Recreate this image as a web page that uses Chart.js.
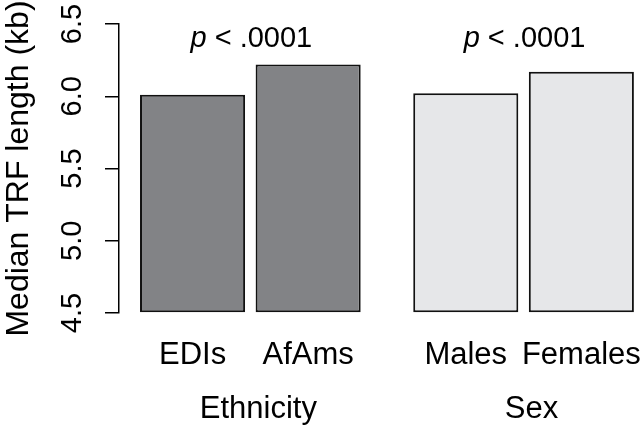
<!DOCTYPE html>
<html lang="en">
<head>
<meta charset="UTF-8">
<title>Median TRF length</title>
<script src="https://cdn.jsdelivr.net/npm/chart.js"></script>
<style>
  html, body { margin: 0; padding: 0; background: white; }
  #wrap { width: 640px; height: 425px; }
</style>
</head>
<body>
<div id="wrap"><canvas id="trfChart" width="640" height="425"></canvas></div>
<script>
// values
const categories = ["EDIs", "AfAms", "Males", "Females"];
const groupOf = [0, 0, 1, 1];
const groups = ["Ethnicity", "Sex"];
const medianTRF = [6.01, 6.22, 6.02, 6.17];
const pLabels = ["< .0001", "< .0001"];
const yTicks = [4.5, 5.0, 5.5, 6.0, 6.5];

const groupColors = ["#828386", "#e6e7e9"];
const FONT = '"Liberation Sans", Arial, Helvetica, sans-serif';

// barplot style layout: bar width 1, small space inside a group, wider between groups
const barSpace = 0.1, groupSpace = 0.5;
let cursor = 0;
const centers = categories.map((c, i) => {
    cursor += (i > 0 && groupOf[i] !== groupOf[i - 1]) ? groupSpace : barSpace;
    const mid = cursor + 0.5;
    cursor += 1;
    return mid;
});

const labelPlugin = {
    id: "barLabels",
    afterDraw(chart) {
        const ctx = chart.ctx;
        const xs = chart.scales.x, ys = chart.scales.y;
        ctx.save();
        ctx.fillStyle = "#000";
        ctx.textBaseline = "alphabetic";

        // category names under each bar
        ctx.textAlign = "center";
        ctx.font = "31px " + FONT;
        categories.forEach((c, i) => {
            ctx.fillText(c, xs.getPixelForValue(centers[i]), ys.bottom + 51);
        });

        groups.forEach((g, gi) => {
            const idx = groupOf.map((v, i) => v === gi ? i : -1).filter(i => i >= 0);
            const mid = idx.reduce((s, i) => s + centers[i], 0) / idx.length;
            const cx = xs.getPixelForValue(mid);

            // group name
            ctx.textAlign = "center";
            ctx.font = "31px " + FONT;
            ctx.fillText(g, cx + 8, ys.bottom + 105);

            // p value above the pair
            ctx.textAlign = "left";
            ctx.font = "italic 29px " + FONT;
            const pw = ctx.measureText("p ").width;
            ctx.font = "29px " + FONT;
            const rw = ctx.measureText(pLabels[gi]).width;
            const start = cx + 1 - (pw + rw) / 2;
            ctx.font = "italic 29px " + FONT;
            ctx.fillText("p", start, ys.top + 23);
            ctx.font = "29px " + FONT;
            ctx.fillText(pLabels[gi], start + pw, ys.top + 23);
        });
        ctx.restore();
    }
};

const chart = new Chart(document.getElementById("trfChart"), {
    type: "bar",
    data: {
        datasets: [{
            data: categories.map((c, i) => ({ x: centers[i], y: medianTRF[i] })),
            backgroundColor: groupOf.map(g => groupColors[g]),
            borderColor: "#111",
            borderWidth: 2,
            borderSkipped: false,
            base: 4.5,
            barPercentage: 1 / 1.1,
            categoryPercentage: 1,
            clip: false
        }]
    },
    options: {
        responsive: false,
        animation: false,
        layout: { padding: { top: 24, bottom: 112, left: 0, right: 4 } },
        plugins: {
            legend: { display: false },
            tooltip: { enabled: false }
        },
        scales: {
            x: {
                type: "linear",
                display: false,
                offset: false,
                min: -0.1,
                max: 4.82,
                afterBuildTicks: axis => { axis.ticks = centers.map(v => ({ value: v })); }
            },
            y: {
                min: 4.5,
                max: 6.5,
                afterBuildTicks: axis => { axis.ticks = yTicks.map(v => ({ value: v })); },
                afterFit: axis => {
                    axis.width = 119;
                    axis.paddingTop = 0;
                    axis.paddingBottom = 0;
                },
                ticks: {
                    callback: v => Number(v).toFixed(1),
                    minRotation: 90,
                    maxRotation: 90,
                    crossAlign: "center",
                    padding: 12,
                    color: "#000",
                    font: { family: FONT, size: 29 }
                },
                grid: {
                    drawOnChartArea: false,
                    drawTicks: true,
                    tickLength: 14,
                    color: "#000",
                    lineWidth: 1.5
                },
                border: { display: true, color: "#000", width: 1.5 },
                title: {
                    display: true,
                    text: "Median TRF length (kb)",
                    color: "#000",
                    font: { family: FONT, size: 32 },
                    padding: { top: 0, bottom: 0 }
                }
            }
        }
    },
    plugins: [labelPlugin]
});
</script>
</body>
</html>
